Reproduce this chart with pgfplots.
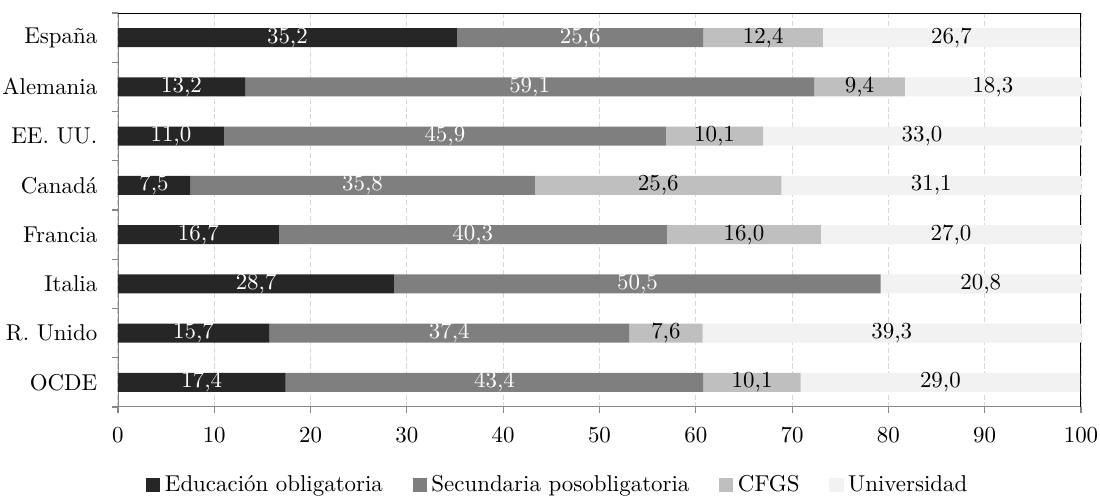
\documentclass[border=0pt]{standalone}
\usepackage{pgfplots}
\pgfplotsset{compat=1.18}
\usepackage{pgfplotstable}

\definecolor{cObl}{HTML}{262626}
\definecolor{cSec}{HTML}{7F7F7F}
\definecolor{cCfgs}{HTML}{BFBFBF}
\definecolor{cUni}{HTML}{F2F2F2}
\definecolor{ejes}{HTML}{878787}
\definecolor{rejilla}{HTML}{D9D9D9}

% y: 0 = España (arriba) ... 7 = OCDE
\pgfplotstableread{
y  obl  sec  cfgs  uni   lobl  lsec  lcfgs luni
0  35.2 25.6 12.4  26.7  35,2  25,6  12,4  26,7
1  13.2 59.1  9.4  18.3  13,2  59,1  9,4   18,3
2  11.0 45.9 10.1  33.0  11,0  45,9  10,1  33,0
3   7.5 35.8 25.6  31.1  7,5   35,8  25,6  31,1
4  16.7 40.3 16.0  27.0  16,7  40,3  16,0  27,0
5  28.7 50.5  0.0  20.8  28,7  50,5  {}    20,8
6  15.7 37.4  7.6  39.3  15,7  37,4  7,6   39,3
7  17.4 43.4 10.1  29.0  17,4  43,4  10,1  29,0
}\datos

\pgfplotsset{
  comun/.style={
    scale only axis,
    width=420.5pt, height=172pt,
    xmin=0, xmax=100, ymin=-0.5, ymax=7.5,
    y dir=reverse,
  },
  etiqueta/.style={
    draw=none, mark=none, forget plot,
    point meta=explicit symbolic,
    nodes near coords,
    every node near coord/.append style={anchor=center, text=#1},
  },
}

\begin{document}
\begin{tikzpicture}
\useasboundingbox (-51.5pt,-39.7pt) rectangle (428.8pt,177.7pt);
\begin{axis}[
  comun,
  xbar stacked, bar width=8.3pt,
  axis line style={draw=none},
  xtick={0,10,...,100},
  xtick pos=bottom,
  ytick={-0.5,0.5,...,7.5}, yticklabels={},
  ytick pos=left,
  extra y ticks={0,1,2,3,4,5,6,7},
  extra y tick labels={España,Alemania,EE. UU.,Canadá,Francia,Italia,R. Unido,OCDE},
  extra y tick style={major tick length=0pt, grid=none},
  tick align=outside,
  major tick length=2.5pt,
  tick style={draw=ejes, line width=0.5pt},
  xmajorgrids, ymajorgrids=false,
  major grid style={draw=rejilla, line width=0.5pt, dash pattern=on 2.2pt off 1.2pt},
  x tick label style={yshift=-3pt},
  y tick label style={xshift=-5.5pt},
  legend columns=4,
  legend style={at={(0.458,-0.198)}, anchor=center, draw=none, fill=none,
    /tikz/every even column/.append style={column sep=11pt}},
  legend image code/.code={\fill[#1] (0pt,-3.2pt) rectangle (6.2pt,3.2pt);},
]
\addplot[fill=cObl, draw=none] table[x=obl, y=y] {\datos};
\addlegendentry{Educación obligatoria}
\addplot[fill=cSec, draw=none] table[x=sec, y=y] {\datos};
\addlegendentry{Secundaria posobligatoria}
\addplot[fill=cCfgs, draw=none] table[x=cfgs, y=y] {\datos};
\addlegendentry{CFGS}
\addplot[fill=cUni, draw=none] table[x=uni, y=y] {\datos};
\addlegendentry{Universidad}

\draw[black, line width=0.7pt] (rel axis cs:0,1) -- (rel axis cs:1,1) -- (rel axis cs:1,0);
\draw[ejes, line width=0.9pt] (rel axis cs:0,1) -- (rel axis cs:0,0) -- (rel axis cs:1,0);
\end{axis}

% etiquetas centradas en cada tramo
\begin{axis}[comun, hide axis, clip=false]
\addplot[etiqueta=white] table[x expr=\thisrow{obl}/2, y=y, meta=lobl] {\datos};
\addplot[etiqueta=white] table[x expr=\thisrow{obl}+\thisrow{sec}/2, y=y, meta=lsec] {\datos};
\addplot[etiqueta=black] table[x expr=\thisrow{obl}+\thisrow{sec}+\thisrow{cfgs}/2, y=y, meta=lcfgs] {\datos};
\addplot[etiqueta=black] table[x expr=\thisrow{obl}+\thisrow{sec}+\thisrow{cfgs}+\thisrow{uni}/2, y=y, meta=luni] {\datos};
\end{axis}
\end{tikzpicture}
\end{document}
